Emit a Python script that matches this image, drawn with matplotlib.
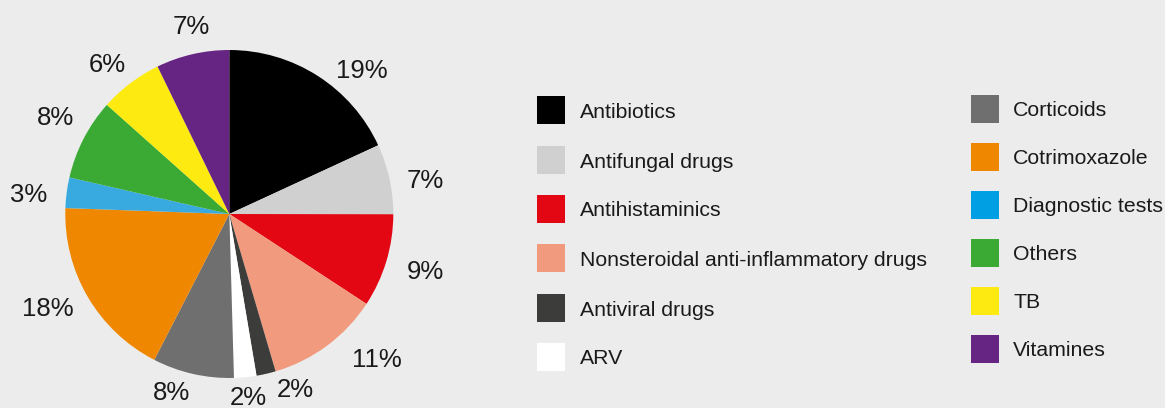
import matplotlib.pyplot as plt
from matplotlib.patches import Rectangle

plt.rcParams['font.family'] = ['Liberation Sans', 'DejaVu Sans']

categorias = ['Antibiotics', 'Antifungal drugs', 'Antihistaminics',
              'Nonsteroidal anti-inflammatory drugs', 'Antiviral drugs', 'ARV',
              'Corticoids', 'Cotrimoxazole', 'Diagnostic tests', 'Others', 'TB',
              'Vitamines']
valores = [18.1, 6.9, 9.2, 11.2, 1.9, 2.2, 8.0, 18.0, 3.0, 8.0, 6.2, 7.2]
etiquetas = ['19%', '7%', '9%', '11%', '2%', '2%', '8%', '18%', '3%', '8%', '6%', '7%']

colores = ['#000000', '#d0d0d0', '#e30613', '#f29a7e', '#3c3c3b', '#ffffff',
           '#706f6f', '#ef8800', '#38aae0', '#3aaa35', '#fcea10', '#662483']
colores_leyenda = colores[:8] + ['#009ee2'] + colores[9:]

# posicion de cada etiqueta (unidades del radio)
pos_etiquetas = [(0.805, 0.873), (1.193, 0.201), (1.193, -0.352), (0.899, -0.890),
                 (0.40, -1.073), (0.116, -1.124), (-0.351, -1.093), (-1.104, -0.581),
                 (-1.226, 0.116), (-1.057, 0.584), (-0.744, 0.909), (-0.235, 1.142)]

W, H = 1165, 408
fig = plt.figure(figsize=(W / 100, H / 100), dpi=100)
fig.patch.set_facecolor('#ececec')

# torta: centro (229, 214) px, radio 164 px
cx, cy, r = 229.3, 214, 164
ax_w = 460
ax = fig.add_axes([0, 0, ax_w / W, 1])
ax.pie(valores, colors=colores, startangle=90, counterclock=False,
       wedgeprops=dict(linewidth=0))
ax.set_xlim(-cx / r, (ax_w - cx) / r)
ax.set_ylim(-(H - cy) / r, cy / r)
ax.set_aspect('auto')
ax.axis('off')

for txt, (x, y) in zip(etiquetas, pos_etiquetas):
    ax.text(x, y, txt, ha='center', va='center', fontsize=18.5, color='#1a1a1a')

# leyenda manual en coordenadas de pixel
lg = fig.add_axes([0, 0, 1, 1])
lg.set_xlim(0, W)
lg.set_ylim(H, 0)
lg.axis('off')

col1_y = [110, 160, 209, 258, 308, 357]
col2_y = [109, 157, 205, 253, 301, 349]
for i, nombre in enumerate(categorias):
    if i < 6:
        x0, y = 537, col1_y[i]
        xt = 580
    else:
        x0, y = 971, col2_y[i - 6]
        xt = 1013
    lg.add_patch(Rectangle((x0, y - 14), 28, 28, facecolor=colores_leyenda[i],
                           edgecolor='none'))
    lg.text(xt, y + 2, nombre, ha='left', va='center', fontsize=15.3, color='#1a1a1a')

fig.savefig('out.png', dpi=100, facecolor=fig.get_facecolor())
